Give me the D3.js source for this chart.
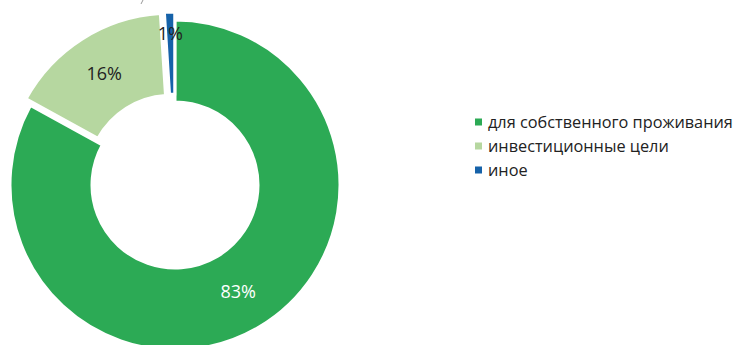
<!DOCTYPE html>
<html>
<head>
<meta charset="utf-8">
<script src="https://cdn.jsdelivr.net/npm/d3@7"></script>
<style>
  html, body { margin: 0; padding: 0; background: #fff; }
  svg { display: block; }
  text { font-family: "Open Sans", "Noto Sans", sans-serif; }
</style>
</head>
<body>
<svg id="chart" width="739" height="345"></svg>
<script>
// Purpose of buying a home, share of respondents
const categories = ["для собственного проживания", "инвестиционные цели", "иное"];
const values = [83, 16, 1];
const valueLabels = ["83%", "16%", "1%"];
const colors = ["#2caa55", "#b6d7a0", "#1662a9"];
const labelColors = ["#ffffff", "#222222", "#222222"];

const svg = d3.select("#chart");
const cx = 175, cy = 185;
const outerR = 165, innerR = 83;
const explode = [0, 8, 8];

const pie = d3.pie().sort(null).value(d => d)(values);
const arc = d3.arc().innerRadius(innerR).outerRadius(outerR);

const g = svg.append("g").attr("transform", `translate(${cx},${cy})`);

const slices = g.selectAll("g.slice")
  .data(pie)
  .join("g")
  .attr("class", "slice")
  .attr("transform", (d, i) => {
    const mid = (d.startAngle + d.endAngle) / 2;
    return `translate(${Math.sin(mid) * explode[i]},${-Math.cos(mid) * explode[i]})`;
  });

slices.append("path")
  .attr("d", arc)
  .attr("fill", (d, i) => colors[i])
  .attr("stroke", "#fff")
  .attr("stroke-width", 3);

slices.append("text")
  .attr("transform", (d, i) => {
    const mid = (d.startAngle + d.endAngle) / 2;
    const r = values[i] < 5 ? outerR * 0.87 : (innerR + outerR) / 2;
    return `translate(${Math.sin(mid) * r},${-Math.cos(mid) * r})`;
  })
  .attr("text-anchor", "middle")
  .attr("dy", "0.36em")
  .attr("font-size", 18)
  .attr("fill", (d, i) => labelColors[i])
  .text((d, i) => valueLabels[i]);

// leader line stub at the top edge
svg.append("path")
  .attr("d", "M143,0 L141,4")
  .attr("stroke", "#999")
  .attr("stroke-width", 1)
  .attr("fill", "none");

// Legend
const legend = svg.append("g").attr("transform", "translate(475,122)");
const rows = legend.selectAll("g")
  .data(categories)
  .join("g")
  .attr("transform", (d, i) => `translate(0,${i * 24})`);

rows.append("rect")
  .attr("x", 0).attr("y", -3.5)
  .attr("width", 7).attr("height", 7)
  .attr("fill", (d, i) => colors[i]);

rows.append("text")
  .attr("x", 13)
  .attr("dy", "0.35em")
  .attr("font-size", 16.3)
  .attr("fill", "#222")
  .text(d => d);
</script>
</body>
</html>
